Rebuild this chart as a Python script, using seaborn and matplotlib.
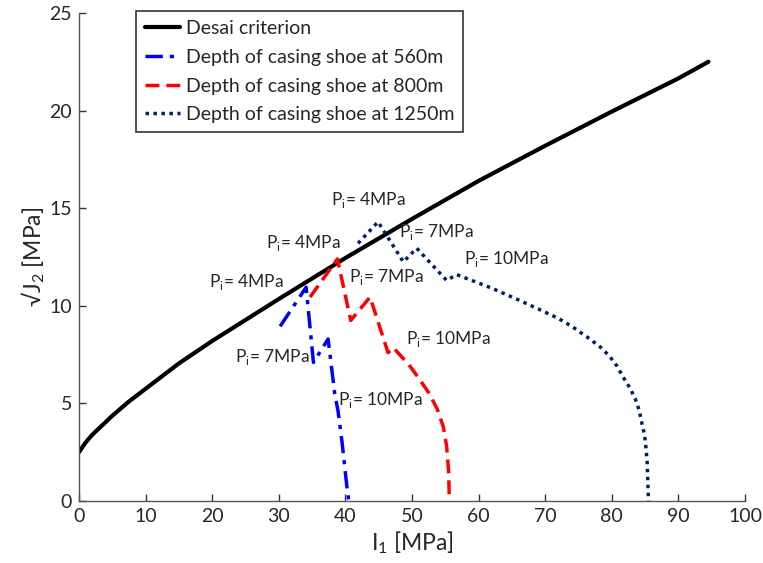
import matplotlib
matplotlib.use("Agg")
import matplotlib.pyplot as plt
import seaborn as sns
import pandas as pd

# Desai criterion curve
desai_i1 = [0, 1, 2, 3, 5, 7.5, 10, 15, 20, 30, 40, 50, 60, 70, 80, 90, 94.5]
desai_j2 = [2.5, 3.0, 3.4, 3.72, 4.37, 5.1, 5.75, 7.05, 8.2, 10.35, 12.45, 14.45, 16.4, 18.2, 19.95, 21.65, 22.5]

# casing shoe at 560m
d560_i1 = [30.2, 34.1, 35.2, 37.4, 38.4, 38.9, 39.5, 40.2, 40.5]
d560_j2 = [8.95, 10.95, 7.1, 8.3, 5.5, 4.6, 3.0, 0.8, 0.0]

# casing shoe at 800m
d800_i1 = [34.7, 38.8, 40.8, 43.7, 46.4, 47.2, 49.5, 51.2, 52.6, 53.8, 54.7, 55.2, 55.5, 55.6]
d800_j2 = [10.45, 12.4, 9.25, 10.45, 7.6, 7.85, 7.0, 6.2, 5.5, 4.7, 3.8, 2.8, 1.5, 0.0]

# casing shoe at 1250m
d1250_i1 = [41.9, 44.9, 48.7, 50.7, 55.2, 56.7, 62.0, 66.0, 69.2, 72.0, 74.2, 76.7, 78.4, 79.7, 80.8, 81.7,
            82.7, 83.5, 84.1, 84.5, 84.9, 85.1, 85.3, 85.4, 85.5]
d1250_j2 = [13.2, 14.3, 12.25, 12.95, 11.3, 11.6, 10.9, 10.3, 9.8, 9.35, 8.9, 8.3, 7.85, 7.4, 6.9, 6.35,
            5.8, 5.25, 4.65, 4.0, 3.4, 2.8, 2.0, 1.0, 0.0]

# annotations
ann_text = ["4", "7", "10", "4", "7", "4", "10", "7", "10"]
ann_x = [43.4, 53.7, 64.2, 33.7, 46.2, 25.1, 55.4, 29.0, 45.2]
ann_y = [15.4, 13.8, 12.4, 13.2, 11.5, 11.2, 8.3, 7.4, 5.2]

sns.set_style("white")
plt.rcParams['font.family'] = ['Lato', 'DejaVu Sans']
plt.rcParams['mathtext.fontset'] = 'custom'
plt.rcParams['mathtext.rm'] = 'Lato'

fig = plt.figure(figsize=(7.63, 5.63), dpi=100)
ax = fig.add_axes([0.1035, 0.110, 0.873, 0.867])

sns.lineplot(x=desai_i1, y=desai_j2, ax=ax, color='black', lw=3, sort=False,
             label='Desai criterion')
sns.lineplot(x=d560_i1, y=d560_j2, ax=ax, color='#0000ff', lw=2.5, sort=False,
             label='Depth of casing shoe at 560m', linestyle=(0, (5, 2, 1.2, 2)))
sns.lineplot(x=d800_i1, y=d800_j2, ax=ax, color='#ff0000', lw=2.5, sort=False,
             label='Depth of casing shoe at 800m', linestyle=(0, (4, 2)))
sns.lineplot(x=d1250_i1, y=d1250_j2, ax=ax, color='#002060', lw=2.5, sort=False,
             label='Depth of casing shoe at 1250m', linestyle=(0, (1, 1.3)))

for t, x, y in zip(ann_text, ann_x, ann_y):
    ax.text(x, y, r'P$_\mathrm{i}$= ' + t + 'MPa', ha='center', va='center', fontsize=12.5)

ax.set_xlim(0, 100)
ax.set_ylim(0, 25)
ax.set_xticks(range(0, 101, 10))
ax.set_yticks(range(0, 26, 5))
ax.tick_params(bottom=True, left=True, direction='in', length=5, width=1,
               labelsize=14, color='#333333', pad=5)
for s in ['top', 'right']:
    ax.spines[s].set_visible(False)
for s in ['left', 'bottom']:
    ax.spines[s].set_color('#555555')
    ax.spines[s].set_linewidth(1)

ax.set_xlabel(r'I$_\mathrm{1}$ [MPa]', fontsize=16.5, labelpad=3)
ax.set_ylabel(r'√J$_\mathrm{2}$ [MPa]', fontsize=16.5, labelpad=2)

leg = ax.legend(loc='upper left', bbox_to_anchor=(0.0856, 1.003), fontsize=14,
                frameon=True, fancybox=False, edgecolor='black', handlelength=1.8,
                handletextpad=0.3, labelspacing=0.6, borderpad=0.45, borderaxespad=0)
leg.get_frame().set_linewidth(1.2)

fig.savefig('out.png', dpi=100)
